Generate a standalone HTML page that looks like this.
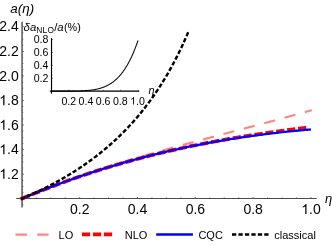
<!DOCTYPE html>
<html><head><meta charset="utf-8"><title>plot</title>
<style>html,body{margin:0;padding:0;background:#fff;}svg{display:block;will-change:transform;}</style></head>
<body>
<svg width="332" height="246" viewBox="0 0 332 246">
<rect width="332" height="246" fill="#fff"/>
<g transform="scale(1.45,1)" fill="none">
<g stroke="#4d4d4d" stroke-width="0.98">
<line x1="15.21" y1="21.80" x2="15.21" y2="207.60" />
<line x1="11.17" y1="198.45" x2="218.48" y2="198.45" />
</g>
<g stroke="#4d4d4d" stroke-width="0.7">
<line x1="25.04" y1="198.45" x2="25.04" y2="197.55" />
<line x1="35.01" y1="198.45" x2="35.01" y2="197.55" />
<line x1="44.98" y1="198.45" x2="44.98" y2="197.55" />
<line x1="54.94" y1="198.45" x2="54.94" y2="197.15" />
<line x1="64.91" y1="198.45" x2="64.91" y2="197.55" />
<line x1="74.88" y1="198.45" x2="74.88" y2="197.55" />
<line x1="84.85" y1="198.45" x2="84.85" y2="197.55" />
<line x1="94.82" y1="198.45" x2="94.82" y2="197.15" />
<line x1="104.79" y1="198.45" x2="104.79" y2="197.55" />
<line x1="114.76" y1="198.45" x2="114.76" y2="197.55" />
<line x1="124.73" y1="198.45" x2="124.73" y2="197.55" />
<line x1="134.70" y1="198.45" x2="134.70" y2="197.15" />
<line x1="144.67" y1="198.45" x2="144.67" y2="197.55" />
<line x1="154.63" y1="198.45" x2="154.63" y2="197.55" />
<line x1="164.60" y1="198.45" x2="164.60" y2="197.55" />
<line x1="174.57" y1="198.45" x2="174.57" y2="197.15" />
<line x1="184.54" y1="198.45" x2="184.54" y2="197.55" />
<line x1="194.51" y1="198.45" x2="194.51" y2="197.55" />
<line x1="204.48" y1="198.45" x2="204.48" y2="197.55" />
<line x1="214.45" y1="198.45" x2="214.45" y2="197.15" />
<line x1="15.21" y1="204.84" x2="16.10" y2="204.84" />
<line x1="15.21" y1="192.56" x2="16.10" y2="192.56" />
<line x1="15.21" y1="186.42" x2="16.10" y2="186.42" />
<line x1="15.21" y1="180.28" x2="16.10" y2="180.28" />
<line x1="15.21" y1="174.14" x2="16.59" y2="174.14" />
<line x1="15.21" y1="168.00" x2="16.10" y2="168.00" />
<line x1="15.21" y1="161.86" x2="16.10" y2="161.86" />
<line x1="15.21" y1="155.72" x2="16.10" y2="155.72" />
<line x1="15.21" y1="149.58" x2="16.59" y2="149.58" />
<line x1="15.21" y1="143.44" x2="16.10" y2="143.44" />
<line x1="15.21" y1="137.30" x2="16.10" y2="137.30" />
<line x1="15.21" y1="131.16" x2="16.10" y2="131.16" />
<line x1="15.21" y1="125.02" x2="16.59" y2="125.02" />
<line x1="15.21" y1="118.88" x2="16.10" y2="118.88" />
<line x1="15.21" y1="112.74" x2="16.10" y2="112.74" />
<line x1="15.21" y1="106.60" x2="16.10" y2="106.60" />
<line x1="15.21" y1="100.46" x2="16.59" y2="100.46" />
<line x1="15.21" y1="94.32" x2="16.10" y2="94.32" />
<line x1="15.21" y1="88.18" x2="16.10" y2="88.18" />
<line x1="15.21" y1="82.04" x2="16.10" y2="82.04" />
<line x1="15.21" y1="75.90" x2="16.59" y2="75.90" />
<line x1="15.21" y1="69.76" x2="16.10" y2="69.76" />
<line x1="15.21" y1="63.62" x2="16.10" y2="63.62" />
<line x1="15.21" y1="57.48" x2="16.10" y2="57.48" />
<line x1="15.21" y1="51.34" x2="16.59" y2="51.34" />
<line x1="15.21" y1="45.20" x2="16.10" y2="45.20" />
<line x1="15.21" y1="39.06" x2="16.10" y2="39.06" />
<line x1="15.21" y1="32.92" x2="16.10" y2="32.92" />
<line x1="15.21" y1="26.78" x2="16.59" y2="26.78" />
</g>
</g>
<g transform="scale(1,1)" fill="none"><path d="M20.40 199.32 L21.62 198.80 L22.83 198.28 L24.05 197.77 L25.26 197.26 L26.48 196.75 L27.69 196.24 L28.90 195.74 L30.12 195.24 L31.33 194.74 L32.55 194.24 L33.76 193.75 L34.98 193.25 L36.19 192.76 L37.40 192.27 L38.62 191.78 L39.83 191.30 L41.05 190.82 L42.26 190.33 L43.47 189.86 L44.69 189.38 L45.90 188.90 L47.12 188.43 L48.33 187.96 L49.55 187.49 L50.76 187.02 L51.97 186.56 L53.19 186.09 L54.40 185.63 L55.62 185.17 L56.83 184.71 L58.05 184.26 L59.26 183.80 L60.47 183.35 L61.69 182.90 L62.90 182.45 L64.12 182.00 L65.33 181.56 L66.54 181.12 L67.76 180.67 L68.97 180.23 L70.19 179.80 L71.40 179.36 L72.62 178.92 L73.83 178.49 L75.04 178.06 L76.26 177.63 L77.47 177.20 L78.69 176.78 L79.90 176.35 L81.12 175.93 L82.33 175.51 L83.54 175.09 L84.76 174.67 L85.97 174.25 L87.19 173.84 L88.40 173.42 L89.62 173.01 L90.83 172.60 L92.04 172.19 L93.26 171.78 L94.47 171.38 L95.69 170.97 L96.90 170.57 L98.11 170.17 L99.33 169.77 L100.54 169.37 L101.76 168.97 L102.97 168.57 L104.19 168.18 L105.40 167.78 L106.61 167.39 L107.83 167.00 L109.04 166.61 L110.26 166.22 L111.47 165.84 L112.69 165.45 L113.90 165.07 L115.11 164.68 L116.33 164.30 L117.54 163.92 L118.76 163.54 L119.97 163.16 L121.18 162.79 L122.40 162.41 L123.61 162.04 L124.83 161.66 L126.04 161.29 L127.26 160.92 L128.47 160.55 L129.68 160.18 L130.90 159.81 L132.11 159.45 L133.33 159.08 L134.54 158.72 L135.76 158.35 L136.97 157.99 L138.18 157.63 L139.40 157.27 L140.61 156.91 L141.83 156.55 L143.04 156.19 L144.25 155.84 L145.47 155.48 L146.68 155.13 L147.90 154.77 L149.11 154.42 L150.33 154.07 L151.54 153.72 L152.75 153.37 L153.97 153.02 L155.18 152.67 L156.40 152.32 L157.61 151.98 L158.83 151.63 L160.04 151.28 L161.25 150.94 L162.47 150.60 L163.68 150.25 L164.90 149.91 L166.11 149.57 L167.33 149.23 L168.54 148.89 L169.75 148.55 L170.97 148.21 L172.18 147.87 L173.40 147.54 L174.61 147.20 L175.82 146.86 L177.04 146.53 L178.25 146.19 L179.47 145.86 L180.68 145.52 L181.90 145.19 L183.11 144.86 L184.32 144.53 L185.54 144.19 L186.75 143.86 L187.97 143.53 L189.18 143.20 L190.40 142.87 L191.61 142.54 L192.82 142.22 L194.04 141.89 L195.25 141.56 L196.47 141.23 L197.68 140.91 L198.89 140.58 L200.11 140.25 L201.32 139.93 L202.54 139.60 L203.75 139.28 L204.97 138.95 L206.18 138.63 L207.39 138.30 L208.61 137.98 L209.82 137.66 L211.04 137.33 L212.25 137.01 L213.47 136.69 L214.68 136.36 L215.89 136.04 L217.11 135.72 L218.32 135.40 L219.54 135.08 L220.75 134.75 L221.97 134.43 L223.18 134.11 L224.39 133.79 L225.61 133.47 L226.82 133.15 L228.04 132.83 L229.25 132.51 L230.46 132.19 L231.68 131.86 L232.89 131.54 L234.11 131.22 L235.32 130.90 L236.54 130.58 L237.75 130.26 L238.96 129.94 L240.18 129.62 L241.39 129.30 L242.61 128.98 L243.82 128.66 L245.04 128.34 L246.25 128.01 L247.46 127.69 L248.68 127.37 L249.89 127.05 L251.11 126.73 L252.32 126.41 L253.53 126.08 L254.75 125.76 L255.96 125.44 L257.18 125.12 L258.39 124.79 L259.61 124.47 L260.82 124.15 L262.03 123.82 L263.25 123.50 L264.46 123.17 L265.68 122.85 L266.89 122.52 L268.11 122.20 L269.32 121.87 L270.53 121.55 L271.75 121.22 L272.96 120.89 L274.18 120.57 L275.39 120.24 L276.60 119.91 L277.82 119.58 L279.03 119.25 L280.25 118.93 L281.46 118.60 L282.68 118.27 L283.89 117.93 L285.10 117.60 L286.32 117.27 L287.53 116.94 L288.75 116.61 L289.96 116.27 L291.18 115.94 L292.39 115.60 L293.60 115.27 L294.82 114.93 L296.03 114.60 L297.25 114.26 L298.46 113.92 L299.68 113.58 L300.89 113.24 L302.10 112.90 L303.32 112.56 L304.53 112.22 L305.75 111.88 L306.96 111.54 L308.17 111.19 L309.39 110.85 L310.60 110.51 L311.82 110.16" stroke="#ff8585" stroke-width="2.1" stroke-dasharray="11.300 9.800" stroke-dashoffset="18.670"/></g>
<g transform="scale(1,1)" fill="none"><path d="M20.40 199.32 L21.60 198.81 L22.79 198.30 L23.98 197.80 L25.17 197.30 L26.36 196.80 L27.55 196.30 L28.74 195.81 L29.94 195.31 L31.13 194.82 L32.32 194.33 L33.51 193.85 L34.70 193.36 L35.89 192.88 L37.08 192.40 L38.27 191.92 L39.47 191.44 L40.66 190.97 L41.85 190.50 L43.04 190.03 L44.23 189.56 L45.42 189.09 L46.61 188.63 L47.81 188.16 L49.00 187.70 L50.19 187.25 L51.38 186.79 L52.57 186.33 L53.76 185.88 L54.95 185.43 L56.14 184.98 L57.34 184.54 L58.53 184.09 L59.72 183.65 L60.91 183.21 L62.10 182.77 L63.29 182.33 L64.48 181.90 L65.68 181.47 L66.87 181.04 L68.06 180.61 L69.25 180.18 L70.44 179.76 L71.63 179.33 L72.82 178.91 L74.01 178.49 L75.21 178.08 L76.40 177.66 L77.59 177.25 L78.78 176.84 L79.97 176.43 L81.16 176.02 L82.35 175.62 L83.55 175.21 L84.74 174.81 L85.93 174.41 L87.12 174.01 L88.31 173.62 L89.50 173.22 L90.69 172.83 L91.88 172.44 L93.08 172.05 L94.27 171.67 L95.46 171.28 L96.65 170.90 L97.84 170.52 L99.03 170.14 L100.22 169.76 L101.42 169.39 L102.61 169.01 L103.80 168.64 L104.99 168.27 L106.18 167.90 L107.37 167.54 L108.56 167.17 L109.75 166.81 L110.95 166.45 L112.14 166.09 L113.33 165.73 L114.52 165.38 L115.71 165.03 L116.90 164.67 L118.09 164.32 L119.29 163.98 L120.48 163.63 L121.67 163.29 L122.86 162.94 L124.05 162.60 L125.24 162.26 L126.43 161.93 L127.62 161.59 L128.82 161.26 L130.01 160.93 L131.20 160.60 L132.39 160.27 L133.58 159.94 L134.77 159.61 L135.96 159.29 L137.16 158.97 L138.35 158.65 L139.54 158.33 L140.73 158.02 L141.92 157.70 L143.11 157.39 L144.30 157.08 L145.49 156.77 L146.69 156.46 L147.88 156.15 L149.07 155.85 L150.26 155.55 L151.45 155.24 L152.64 154.94 L153.83 154.65 L155.03 154.35 L156.22 154.06 L157.41 153.76 L158.60 153.47 L159.79 153.18 L160.98 152.89 L162.17 152.61 L163.36 152.32 L164.56 152.04 L165.75 151.76 L166.94 151.48 L168.13 151.20 L169.32 150.92 L170.51 150.65 L171.70 150.37 L172.90 150.10 L174.09 149.83 L175.28 149.56 L176.47 149.29 L177.66 149.03 L178.85 148.76 L180.04 148.50 L181.23 148.24 L182.43 147.98 L183.62 147.72 L184.81 147.46 L186.00 147.21 L187.19 146.95 L188.38 146.70 L189.57 146.45 L190.77 146.20 L191.96 145.95 L193.15 145.71 L194.34 145.46 L195.53 145.22 L196.72 144.97 L197.91 144.73 L199.10 144.49 L200.30 144.26 L201.49 144.02 L202.68 143.78 L203.87 143.55 L205.06 143.32 L206.25 143.09 L207.44 142.86 L208.64 142.63 L209.83 142.40 L211.02 142.18 L212.21 141.95 L213.40 141.73 L214.59 141.51 L215.78 141.29 L216.97 141.07 L218.17 140.85 L219.36 140.63 L220.55 140.42 L221.74 140.20 L222.93 139.99 L224.12 139.78 L225.31 139.57 L226.51 139.36 L227.70 139.15 L228.89 138.95 L230.08 138.74 L231.27 138.54 L232.46 138.34 L233.65 138.13 L234.84 137.93 L236.04 137.73 L237.23 137.54 L238.42 137.34 L239.61 137.14 L240.80 136.95 L241.99 136.76 L243.18 136.56 L244.38 136.37 L245.57 136.18 L246.76 135.99 L247.95 135.80 L249.14 135.62 L250.33 135.43 L251.52 135.25 L252.71 135.06 L253.91 134.88 L255.10 134.70 L256.29 134.52 L257.48 134.34 L258.67 134.16 L259.86 133.98 L261.05 133.80 L262.25 133.63 L263.44 133.45 L264.63 133.28 L265.82 133.11 L267.01 132.93 L268.20 132.76 L269.39 132.59 L270.58 132.42 L271.78 132.25 L272.97 132.09 L274.16 131.92 L275.35 131.75 L276.54 131.59 L277.73 131.42 L278.92 131.26 L280.12 131.10 L281.31 130.94 L282.50 130.77 L283.69 130.61 L284.88 130.45 L286.07 130.30 L287.26 130.14 L288.45 129.98 L289.65 129.82 L290.84 129.67 L292.03 129.51 L293.22 129.36 L294.41 129.20 L295.60 129.05 L296.79 128.90 L297.99 128.74 L299.18 128.59 L300.37 128.44 L301.56 128.29 L302.75 128.14 L303.94 127.99 L305.13 127.84 L306.32 127.69" stroke="#ff0000" stroke-width="3.75" stroke-dasharray="8.200 2.800" stroke-dashoffset="9.470"/></g>
<path d="M20.40 199.32 L21.20 198.98 L21.99 198.64 L22.79 198.30 L23.58 197.97" fill="none" stroke="#ff0000" stroke-width="3.75"/>
<path d="M20.98 199.07 L22.19 198.56 L23.40 198.04 L24.61 197.53 L25.82 197.03 L27.02 196.52 L28.23 196.02 L29.44 195.52 L30.65 195.02 L31.86 194.52 L33.06 194.03 L34.27 193.54 L35.48 193.05 L36.69 192.56 L37.90 192.07 L39.11 191.59 L40.31 191.11 L41.52 190.63 L42.73 190.15 L43.94 189.67 L45.15 189.20 L46.35 188.73 L47.56 188.26 L48.77 187.79 L49.98 187.33 L51.19 186.86 L52.40 186.40 L53.60 185.94 L54.81 185.49 L56.02 185.03 L57.23 184.58 L58.44 184.13 L59.65 183.68 L60.85 183.23 L62.06 182.79 L63.27 182.34 L64.48 181.90 L65.69 181.46 L66.89 181.03 L68.10 180.59 L69.31 180.16 L70.52 179.73 L71.73 179.30 L72.94 178.87 L74.14 178.45 L75.35 178.03 L76.56 177.61 L77.77 177.19 L78.98 176.77 L80.18 176.36 L81.39 175.94 L82.60 175.53 L83.81 175.12 L85.02 174.72 L86.23 174.31 L87.43 173.91 L88.64 173.51 L89.85 173.11 L91.06 172.71 L92.27 172.32 L93.47 171.92 L94.68 171.53 L95.89 171.14 L97.10 170.76 L98.31 170.37 L99.52 169.99 L100.72 169.61 L101.93 169.23 L103.14 168.85 L104.35 168.47 L105.56 168.10 L106.76 167.73 L107.97 167.36 L109.18 166.99 L110.39 166.62 L111.60 166.26 L112.81 165.90 L114.01 165.54 L115.22 165.18 L116.43 164.82 L117.64 164.47 L118.85 164.11 L120.05 163.76 L121.26 163.41 L122.47 163.07 L123.68 162.72 L124.89 162.38 L126.10 162.03 L127.30 161.69 L128.51 161.36 L129.72 161.02 L130.93 160.68 L132.14 160.35 L133.35 160.02 L134.55 159.69 L135.76 159.37 L136.97 159.04 L138.18 158.72 L139.39 158.39 L140.59 158.07 L141.80 157.76 L143.01 157.44 L144.22 157.13 L145.43 156.81 L146.64 156.50 L147.84 156.19 L149.05 155.89 L150.26 155.58 L151.47 155.28 L152.68 154.97 L153.88 154.67 L155.09 154.38 L156.30 154.08 L157.51 153.78 L158.72 153.49 L159.93 153.20 L161.13 152.91 L162.34 152.62 L163.55 152.34 L164.76 152.05 L165.97 151.77 L167.17 151.49 L168.38 151.21 L169.59 150.93 L170.80 150.66 L172.01 150.38 L173.22 150.11 L174.42 149.84 L175.63 149.57 L176.84 149.30 L178.05 149.04 L179.26 148.77 L180.46 148.51 L181.67 148.25 L182.88 147.99 L184.09 147.73 L185.30 147.48 L186.51 147.23 L187.71 146.97 L188.92 146.72 L190.13 146.48 L191.34 146.23 L192.55 145.98 L193.75 145.74 L194.96 145.50 L196.17 145.26 L197.38 145.02 L198.59 144.78 L199.80 144.55 L201.00 144.31 L202.21 144.08 L203.42 143.85 L204.63 143.62 L205.84 143.39 L207.05 143.17 L208.25 142.94 L209.46 142.72 L210.67 142.50 L211.88 142.28 L213.09 142.06 L214.29 141.85 L215.50 141.63 L216.71 141.42 L217.92 141.21 L219.13 141.00 L220.34 140.79 L221.54 140.59 L222.75 140.38 L223.96 140.18 L225.17 139.98 L226.38 139.78 L227.58 139.58 L228.79 139.38 L230.00 139.19 L231.21 138.99 L232.42 138.80 L233.63 138.61 L234.83 138.42 L236.04 138.23 L237.25 138.05 L238.46 137.86 L239.67 137.68 L240.87 137.50 L242.08 137.32 L243.29 137.14 L244.50 136.96 L245.71 136.79 L246.92 136.61 L248.12 136.44 L249.33 136.27 L250.54 136.10 L251.75 135.93 L252.96 135.77 L254.16 135.60 L255.37 135.44 L256.58 135.27 L257.79 135.11 L259.00 134.96 L260.21 134.80 L261.41 134.64 L262.62 134.49 L263.83 134.33 L265.04 134.18 L266.25 134.03 L267.45 133.88 L268.66 133.74 L269.87 133.59 L271.08 133.45 L272.29 133.30 L273.50 133.16 L274.70 133.02 L275.91 132.88 L277.12 132.74 L278.33 132.61 L279.54 132.47 L280.75 132.34 L281.95 132.21 L283.16 132.08 L284.37 131.95 L285.58 131.82 L286.79 131.70 L287.99 131.57 L289.20 131.45 L290.41 131.33 L291.62 131.21 L292.83 131.09 L294.04 130.97 L295.24 130.85 L296.45 130.74 L297.66 130.63 L298.87 130.51 L300.08 130.40 L301.28 130.29 L302.49 130.18 L303.70 130.08 L304.91 129.97 L306.12 129.87 L307.33 129.77 L308.53 129.66 L309.74 129.56 L310.95 129.47" fill="none" stroke="#0000ff" stroke-width="2.3"/>
<path d="M21.21 198.97 L21.91 198.67 L22.61 198.38 L23.31 198.08 L24.01 197.78 L24.71 197.47 L25.41 197.17 L26.11 196.86 L26.81 196.56 L27.51 196.25 L28.20 195.94 L28.90 195.63 L29.60 195.32 L30.30 195.00 L31.00 194.69 L31.70 194.37 L32.40 194.05 L33.10 193.73 L33.80 193.41 L34.50 193.08 L35.19 192.76 L35.89 192.43 L36.59 192.10 L37.29 191.77 L37.99 191.44 L38.69 191.10 L39.39 190.77 L40.09 190.43 L40.79 190.09 L41.49 189.75 L42.18 189.41 L42.88 189.06 L43.58 188.72 L44.28 188.37 L44.98 188.02 L45.68 187.67 L46.38 187.32 L47.08 186.96 L47.78 186.60 L48.48 186.24 L49.17 185.88 L49.87 185.52 L50.57 185.15 L51.27 184.79 L51.97 184.42 L52.67 184.05 L53.37 183.67 L54.07 183.30 L54.77 182.92 L55.47 182.54 L56.16 182.16 L56.86 181.78 L57.56 181.39 L58.26 181.00 L58.96 180.61 L59.66 180.22 L60.36 179.83 L61.06 179.43 L61.76 179.03 L62.46 178.63 L63.16 178.23 L63.85 177.83 L64.55 177.42 L65.25 177.01 L65.95 176.60 L66.65 176.18 L67.35 175.76 L68.05 175.34 L68.75 174.92 L69.45 174.50 L70.15 174.07 L70.84 173.64 L71.54 173.21 L72.24 172.78 L72.94 172.34 L73.64 171.90 L74.34 171.46 L75.04 171.01 L75.74 170.57 L76.44 170.12 L77.14 169.66 L77.83 169.21 L78.53 168.75 L79.23 168.29 L79.93 167.83 L80.63 167.36 L81.33 166.89 L82.03 166.42 L82.73 165.94 L83.43 165.47 L84.13 164.98 L84.82 164.50 L85.52 164.01 L86.22 163.52 L86.92 163.03 L87.62 162.54 L88.32 162.04 L89.02 161.53 L89.72 161.03 L90.42 160.52 L91.12 160.01 L91.81 159.49 L92.51 158.97 L93.21 158.45 L93.91 157.93 L94.61 157.40 L95.31 156.87 L96.01 156.33 L96.71 155.79 L97.41 155.25 L98.11 154.70 L98.81 154.15 L99.50 153.60 L100.20 153.04 L100.90 152.48 L101.60 151.92 L102.30 151.35 L103.00 150.78 L103.70 150.20 L104.40 149.62 L105.10 149.04 L105.80 148.45 L106.49 147.86 L107.19 147.27 L107.89 146.67 L108.59 146.06 L109.29 145.45 L109.99 144.84 L110.69 144.22 L111.39 143.60 L112.09 142.98 L112.79 142.35 L113.48 141.71 L114.18 141.08 L114.88 140.43 L115.58 139.78 L116.28 139.13 L116.98 138.47 L117.68 137.81 L118.38 137.15 L119.08 136.47 L119.78 135.80 L120.47 135.12 L121.17 134.43 L121.87 133.74 L122.57 133.04 L123.27 132.34 L123.97 131.63 L124.67 130.92 L125.37 130.20 L126.07 129.48 L126.77 128.75 L127.46 128.02 L128.16 127.28 L128.86 126.53 L129.56 125.78 L130.26 125.02 L130.96 124.26 L131.66 123.49 L132.36 122.71 L133.06 121.93 L133.76 121.15 L134.46 120.35 L135.15 119.55 L135.85 118.75 L136.55 117.93 L137.25 117.11 L137.95 116.29 L138.65 115.46 L139.35 114.62 L140.05 113.77 L140.75 112.92 L141.45 112.06 L142.14 111.19 L142.84 110.32 L143.54 109.43 L144.24 108.54 L144.94 107.65 L145.64 106.74 L146.34 105.83 L147.04 104.91 L147.74 103.98 L148.44 103.05 L149.13 102.11 L149.83 101.15 L150.53 100.19 L151.23 99.22 L151.93 98.25 L152.63 97.26 L153.33 96.27 L154.03 95.26 L154.73 94.25 L155.43 93.23 L156.12 92.20 L156.82 91.16 L157.52 90.11 L158.22 89.05 L158.92 87.98 L159.62 86.90 L160.32 85.82 L161.02 84.72 L161.72 83.61 L162.42 82.49 L163.11 81.36 L163.81 80.22 L164.51 79.06 L165.21 77.90 L165.91 76.73 L166.61 75.54 L167.31 74.35 L168.01 73.14 L168.71 71.92 L169.41 70.68 L170.11 69.44 L170.80 68.18 L171.50 66.91 L172.20 65.63 L172.90 64.33 L173.60 63.02 L174.30 61.70 L175.00 60.37 L175.70 59.02 L176.40 57.65 L177.10 56.28 L177.79 54.88 L178.49 53.48 L179.19 52.05 L179.89 50.62 L180.59 49.16 L181.29 47.70 L181.99 46.21 L182.69 44.71 L183.39 43.20 L184.09 41.66 L184.78 40.11 L185.48 38.54 L186.18 36.96 L186.88 35.36 L187.58 33.73 L188.28 32.09 L188.98 30.44" fill="none" stroke="#000" stroke-width="2.4" stroke-dasharray="4.35 2.09"/>
<g font-family="Liberation Sans, sans-serif" font-size="14" fill="#000">
<text x="69.99" y="214.00">0.2</text>
<text x="127.81" y="214.00">0.4</text>
<text x="185.63" y="214.00">0.6</text>
<text x="243.45" y="214.00">0.8</text>
<path d="M306.49 214.00 L305.26 214.00 L305.26 206.16 Q304.81 206.58 304.09 207.01 Q303.37 207.43 302.79 207.64 L302.79 206.45 Q303.83 205.97 304.60 205.28 Q305.37 204.59 305.69 203.94 L306.49 203.94 Z" fill="#000" stroke="none"/><text x="309.05" y="214.00">.0</text>
<path d="M4.46 178.84 L3.23 178.84 L3.23 171.00 Q2.78 171.42 2.06 171.85 Q1.34 172.27 0.76 172.48 L0.76 171.29 Q1.80 170.81 2.57 170.12 Q3.34 169.43 3.66 168.78 L4.46 168.78 Z" fill="#000" stroke="none"/><text x="7.02" y="178.84">.2</text>
<path d="M4.46 154.28 L3.23 154.28 L3.23 146.44 Q2.78 146.86 2.06 147.29 Q1.34 147.71 0.76 147.92 L0.76 146.73 Q1.80 146.25 2.57 145.56 Q3.34 144.87 3.66 144.22 L4.46 144.22 Z" fill="#000" stroke="none"/><text x="7.02" y="154.28">.4</text>
<path d="M4.46 129.72 L3.23 129.72 L3.23 121.88 Q2.78 122.30 2.06 122.73 Q1.34 123.15 0.76 123.36 L0.76 122.17 Q1.80 121.69 2.57 121.00 Q3.34 120.31 3.66 119.66 L4.46 119.66 Z" fill="#000" stroke="none"/><text x="7.02" y="129.72">.6</text>
<path d="M4.46 105.16 L3.23 105.16 L3.23 97.32 Q2.78 97.74 2.06 98.17 Q1.34 98.59 0.76 98.80 L0.76 97.61 Q1.80 97.13 2.57 96.44 Q3.34 95.75 3.66 95.10 L4.46 95.10 Z" fill="#000" stroke="none"/><text x="7.02" y="105.16">.8</text>
<text x="-0.76" y="80.60">2.0</text>
<text x="-0.76" y="56.04">2.2</text>
<text x="-0.76" y="31.48">2.4</text>
</g>
<text x="10.2" y="12.8" font-family="Liberation Sans, sans-serif" font-size="13.4" font-style="italic" letter-spacing="0.1" fill="#000">a(η)</text>
<text x="325" y="203" font-family="Liberation Sans, sans-serif" font-size="13" font-style="italic" fill="#000">η</text>
<path d="M51.50 91.15 L51.93 91.15 L52.37 91.15 L52.80 91.15 L53.23 91.15 L53.66 91.15 L54.09 91.15 L54.53 91.15 L54.96 91.15 L55.39 91.15 L55.83 91.15 L56.26 91.15 L56.69 91.15 L57.12 91.15 L57.55 91.15 L57.99 91.15 L58.42 91.15 L58.85 91.15 L59.28 91.15 L59.72 91.15 L60.15 91.15 L60.58 91.15 L61.02 91.15 L61.45 91.15 L61.88 91.15 L62.31 91.15 L62.75 91.15 L63.18 91.15 L63.61 91.15 L64.04 91.15 L64.47 91.15 L64.91 91.15 L65.34 91.14 L65.77 91.14 L66.20 91.14 L66.64 91.14 L67.07 91.14 L67.50 91.14 L67.94 91.14 L68.37 91.14 L68.80 91.13 L69.23 91.13 L69.66 91.13 L70.10 91.13 L70.53 91.12 L70.96 91.12 L71.39 91.12 L71.83 91.11 L72.26 91.11 L72.69 91.11 L73.12 91.10 L73.56 91.10 L73.99 91.09 L74.42 91.08 L74.86 91.08 L75.29 91.07 L75.72 91.06 L76.15 91.05 L76.58 91.05 L77.02 91.04 L77.45 91.03 L77.88 91.02 L78.31 91.01 L78.75 90.99 L79.18 90.98 L79.61 90.97 L80.05 90.95 L80.48 90.94 L80.91 90.92 L81.34 90.90 L81.78 90.88 L82.21 90.86 L82.64 90.84 L83.07 90.82 L83.50 90.80 L83.94 90.77 L84.37 90.75 L84.80 90.72 L85.23 90.69 L85.67 90.66 L86.10 90.63 L86.53 90.60 L86.97 90.56 L87.40 90.53 L87.83 90.49 L88.26 90.45 L88.69 90.41 L89.13 90.36 L89.56 90.31 L89.99 90.27 L90.43 90.22 L90.86 90.16 L91.29 90.11 L91.72 90.05 L92.16 89.99 L92.59 89.93 L93.02 89.86 L93.45 89.79 L93.88 89.72 L94.32 89.65 L94.75 89.57 L95.18 89.49 L95.62 89.40 L96.05 89.32 L96.48 89.22 L96.91 89.13 L97.34 89.03 L97.78 88.93 L98.21 88.83 L98.64 88.72 L99.08 88.60 L99.51 88.48 L99.94 88.36 L100.37 88.23 L100.80 88.10 L101.24 87.97 L101.67 87.83 L102.10 87.68 L102.53 87.53 L102.97 87.37 L103.40 87.21 L103.83 87.05 L104.27 86.87 L104.70 86.70 L105.13 86.51 L105.56 86.32 L106.00 86.13 L106.43 85.92 L106.86 85.71 L107.29 85.50 L107.72 85.28 L108.16 85.05 L108.59 84.81 L109.02 84.57 L109.46 84.31 L109.89 84.06 L110.32 83.79 L110.75 83.51 L111.19 83.23 L111.62 82.94 L112.05 82.64 L112.48 82.33 L112.91 82.01 L113.35 81.69 L113.78 81.35 L114.21 81.01 L114.64 80.65 L115.08 80.29 L115.51 79.91 L115.94 79.53 L116.38 79.13 L116.81 78.73 L117.24 78.31 L117.67 77.88 L118.11 77.44 L118.54 76.99 L118.97 76.53 L119.40 76.06 L119.84 75.57 L120.27 75.07 L120.70 74.56 L121.13 74.03 L121.56 73.50 L122.00 72.94 L122.43 72.38 L122.86 71.80 L123.30 71.21 L123.73 70.60 L124.16 69.97 L124.59 69.34 L125.02 68.68 L125.46 68.02 L125.89 67.33 L126.32 66.63 L126.75 65.91 L127.19 65.18 L127.62 64.43 L128.05 63.66 L128.49 62.88 L128.92 62.07 L129.35 61.25 L129.78 60.41 L130.22 59.55 L130.65 58.68 L131.08 57.78 L131.51 56.86 L131.94 55.93 L132.38 54.97 L132.81 53.99 L133.24 52.99 L133.68 51.97 L134.11 50.93 L134.54 49.87 L134.97 48.78 L135.41 47.67 L135.84 46.54 L136.27 45.38 L136.70 44.20 L137.13 43.00 L137.57 41.77 L138.00 40.52" fill="none" stroke="#111" stroke-width="1.1"/>
<g stroke="#000" stroke-width="1.15" fill="none">
<line x1="51.50" y1="38.2" x2="51.50" y2="93.7"/>
<line x1="49.8" y1="91.15" x2="139.3" y2="91.15"/>
</g>
<g stroke="#111" stroke-width="0.7" fill="none">
<line x1="55.83" y1="91.15" x2="55.83" y2="90.15" stroke-opacity="0.35"/>
<line x1="60.15" y1="91.15" x2="60.15" y2="90.15" stroke-opacity="0.35"/>
<line x1="64.47" y1="91.15" x2="64.47" y2="90.15" stroke-opacity="0.35"/>
<line x1="68.80" y1="91.15" x2="68.80" y2="89.65" stroke-opacity="0.7"/>
<line x1="73.12" y1="91.15" x2="73.12" y2="90.15" stroke-opacity="0.35"/>
<line x1="77.45" y1="91.15" x2="77.45" y2="90.15" stroke-opacity="0.35"/>
<line x1="81.78" y1="91.15" x2="81.78" y2="90.15" stroke-opacity="0.35"/>
<line x1="86.10" y1="91.15" x2="86.10" y2="89.65" stroke-opacity="0.7"/>
<line x1="90.43" y1="91.15" x2="90.43" y2="90.15" stroke-opacity="0.35"/>
<line x1="94.75" y1="91.15" x2="94.75" y2="90.15" stroke-opacity="0.35"/>
<line x1="99.08" y1="91.15" x2="99.08" y2="90.15" stroke-opacity="0.35"/>
<line x1="103.40" y1="91.15" x2="103.40" y2="89.65" stroke-opacity="0.7"/>
<line x1="107.72" y1="91.15" x2="107.72" y2="90.15" stroke-opacity="0.35"/>
<line x1="112.05" y1="91.15" x2="112.05" y2="90.15" stroke-opacity="0.35"/>
<line x1="116.38" y1="91.15" x2="116.38" y2="90.15" stroke-opacity="0.35"/>
<line x1="120.70" y1="91.15" x2="120.70" y2="89.65" stroke-opacity="0.7"/>
<line x1="125.03" y1="91.15" x2="125.03" y2="90.15" stroke-opacity="0.35"/>
<line x1="129.35" y1="91.15" x2="129.35" y2="90.15" stroke-opacity="0.35"/>
<line x1="133.68" y1="91.15" x2="133.68" y2="90.15" stroke-opacity="0.35"/>
<line x1="138.00" y1="91.15" x2="138.00" y2="89.65" stroke-opacity="0.7"/>
<line x1="51.50" y1="87.93" x2="52.50" y2="87.93" stroke-opacity="0.35"/>
<line x1="51.50" y1="84.70" x2="52.50" y2="84.70" stroke-opacity="0.35"/>
<line x1="51.50" y1="81.48" x2="52.50" y2="81.48" stroke-opacity="0.35"/>
<line x1="51.50" y1="78.25" x2="53.00" y2="78.25" stroke-opacity="0.7"/>
<line x1="51.50" y1="75.03" x2="52.50" y2="75.03" stroke-opacity="0.35"/>
<line x1="51.50" y1="71.80" x2="52.50" y2="71.80" stroke-opacity="0.35"/>
<line x1="51.50" y1="68.58" x2="52.50" y2="68.58" stroke-opacity="0.35"/>
<line x1="51.50" y1="65.35" x2="53.00" y2="65.35" stroke-opacity="0.7"/>
<line x1="51.50" y1="62.12" x2="52.50" y2="62.12" stroke-opacity="0.35"/>
<line x1="51.50" y1="58.90" x2="52.50" y2="58.90" stroke-opacity="0.35"/>
<line x1="51.50" y1="55.68" x2="52.50" y2="55.68" stroke-opacity="0.35"/>
<line x1="51.50" y1="52.45" x2="53.00" y2="52.45" stroke-opacity="0.7"/>
<line x1="51.50" y1="49.23" x2="52.50" y2="49.23" stroke-opacity="0.35"/>
<line x1="51.50" y1="46.00" x2="52.50" y2="46.00" stroke-opacity="0.35"/>
<line x1="51.50" y1="42.78" x2="52.50" y2="42.78" stroke-opacity="0.35"/>
<line x1="51.50" y1="39.55" x2="53.00" y2="39.55" stroke-opacity="0.7"/>
</g>
<g font-family="Liberation Sans, sans-serif" font-size="10.6" fill="#000">
<text x="61.41" y="104.50">0.2</text>
<text x="78.59" y="104.50">0.4</text>
<text x="95.77" y="104.50">0.6</text>
<text x="112.95" y="104.50">0.8</text>
<path d="M134.08 104.50 L133.15 104.50 L133.15 98.56 Q132.81 98.88 132.27 99.21 Q131.72 99.53 131.29 99.69 L131.29 98.79 Q132.07 98.42 132.65 97.90 Q133.24 97.37 133.48 96.88 L134.08 96.88 Z" fill="#000" stroke="none"/><text x="136.03" y="104.50">.0</text>
<text x="33.67" y="81.95">0.2</text>
<text x="33.67" y="69.05">0.4</text>
<text x="33.67" y="56.15">0.6</text>
<text x="33.67" y="43.25">0.8</text>
</g>
<text x="23.6" y="30.9" font-family="Liberation Sans, sans-serif" font-size="11.35" fill="#000"><tspan font-style="italic">δa</tspan><tspan font-size="8.4" dy="2.3" letter-spacing="0.25">NLO</tspan><tspan dy="-2.3">/</tspan><tspan font-style="italic">a</tspan><tspan dx="0.3" font-size="10.8">(%)</tspan></text>
<text x="148.6" y="94.2" font-family="Liberation Sans, sans-serif" font-size="11" font-style="italic" fill="#000">η</text>
<line x1="15.5" y1="234.6" x2="51.5" y2="234.6" stroke="#ff8585" stroke-width="2.1" stroke-dasharray="11.4 10.3"/>
<line x1="81.9" y1="234.4" x2="114" y2="234.4" stroke="#ff0000" stroke-width="3.75" stroke-dasharray="8.2 2.8"/>
<line x1="156.2" y1="234.5" x2="192.9" y2="234.5" stroke="#0000ff" stroke-width="2.45"/>
<line x1="232.0" y1="234.5" x2="268.6" y2="234.5" stroke="#000" stroke-width="2.3" stroke-dasharray="4.3 2.15"/>
<g font-family="Liberation Sans, sans-serif" font-size="11" fill="#000">
<text x="58.6" y="238.5">LO</text>
<text x="124.7" y="238.5">NLO</text>
<text x="198.4" y="238.5">CQC</text>
<text x="274.3" y="238.5">classical</text>
</g>
</svg>
</body></html>
